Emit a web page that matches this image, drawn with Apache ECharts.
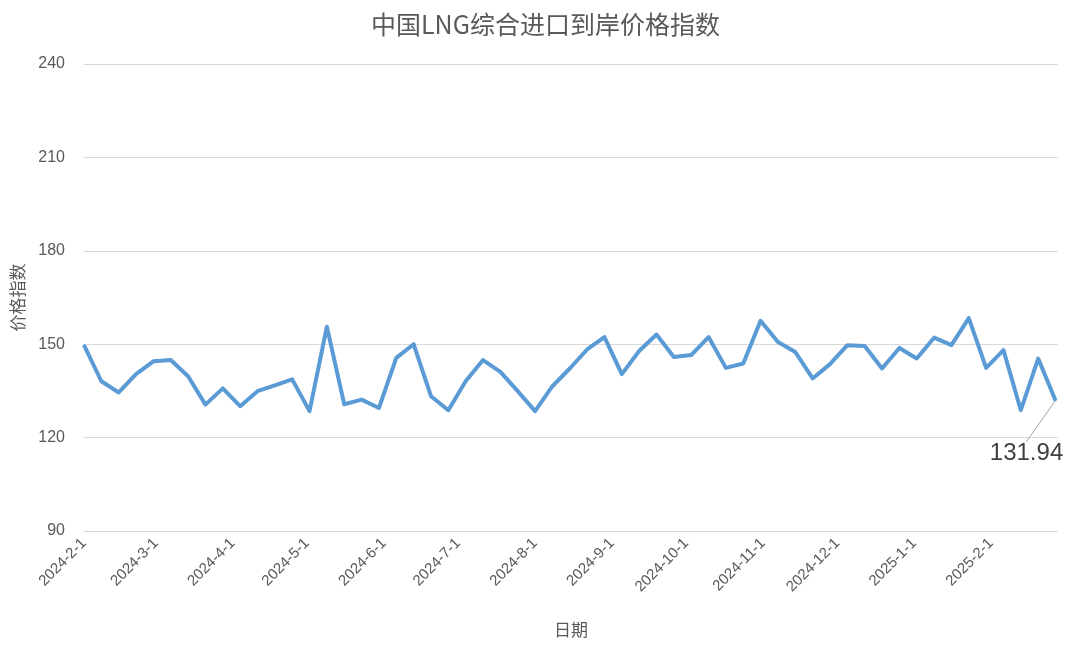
<!DOCTYPE html>
<html>
<head>
<meta charset="utf-8">
<script src="https://cdn.jsdelivr.net/npm/echarts@6/dist/echarts.min.js"></script>
<style>
html,body{margin:0;padding:0;background:#fff;}
#chart{width:1080px;height:647px;}
</style>
</head>
<body>
<div id="chart"></div>
<script>
const titleText = '中国LNG综合进口到岸价格指数';
const xName = '日期';
const yName = '价格指数';
const dates = [
  '2024-02-01','2024-02-08','2024-02-15','2024-02-22','2024-02-29',
  '2024-03-07','2024-03-14','2024-03-21','2024-03-28',
  '2024-04-04','2024-04-11','2024-04-18','2024-04-25',
  '2024-05-02','2024-05-09','2024-05-16','2024-05-23','2024-05-30',
  '2024-06-06','2024-06-13','2024-06-20','2024-06-27',
  '2024-07-04','2024-07-11','2024-07-18','2024-07-25',
  '2024-08-01','2024-08-08','2024-08-15','2024-08-22','2024-08-29',
  '2024-09-05','2024-09-12','2024-09-19','2024-09-26',
  '2024-10-03','2024-10-10','2024-10-17','2024-10-24','2024-10-31',
  '2024-11-07','2024-11-14','2024-11-21','2024-11-28',
  '2024-12-05','2024-12-12','2024-12-19','2024-12-26',
  '2025-01-02','2025-01-09','2025-01-16','2025-01-23','2025-01-30',
  '2025-02-06','2025-02-13','2025-02-20','2025-02-27'
];
const values = [
  149.7,138.1,134.5,140.4,144.5,144.9,139.7,130.6,135.8,130.1,
  134.9,136.8,138.7,128.5,155.6,130.7,132.2,129.5,145.6,150.0,
  133.3,128.8,138.1,144.9,141.1,134.9,128.5,136.5,142.2,148.3,
  152.3,140.4,147.8,153.1,145.9,146.5,152.3,142.4,143.8,157.5,
  150.7,147.5,139.0,143.6,149.7,149.4,142.2,148.8,145.4,152.1,
  149.7,158.4,142.4,148.1,128.8,145.4,131.94
];
const xMin = '2024-02-01';
const xMax = '2025-02-28';
const yMin = 90, yMax = 240, yInterval = 30;

const seriesData = dates.map((d, i) => {
  const item = { value: [d, values[i]] };
  if (i === dates.length - 1) {
    item.label = { show: true };
    item.labelLine = { show: true };
  }
  return item;
});

const chart = echarts.init(document.getElementById('chart'));
const font = '"Liberation Sans", Arial, "Noto Sans CJK SC", sans-serif';
chart.setOption({
  animation: false,
  backgroundColor: '#ffffff',
  title: {
    text: titleText,
    left: 366,
    top: 7,
    textStyle: { fontFamily: '"Noto Sans CJK SC", sans-serif', fontSize: 25, fontWeight: 'normal', color: '#595959' }
  },
  grid: { left: 84, right: 22, top: 64, bottom: 116, containLabel: false, outerBoundsMode: 'none' },
  xAxis: {
    type: 'time',
    min: xMin,
    max: xMax,
    name: xName,
    nameLocation: 'middle',
    nameGap: 90,
    nameTextStyle: { fontFamily: '"Noto Sans CJK SC", sans-serif', fontSize: 17, color: '#595959' },
    minInterval: 28 * 86400000,
    maxInterval: 31 * 86400000,
    axisLine: { show: false },
    axisTick: { show: false },
    splitLine: { show: false },
    axisLabel: {
      rotate: 45,
      fontFamily: font,
      fontSize: 15,
      color: '#595959',
      margin: 10,
      hideOverlap: false,
      showMinLabel: true,
      showMaxLabel: false,
      formatter: function (v) {
        const d = new Date(v);
        return d.getFullYear() + '-' + (d.getMonth() + 1) + '-' + d.getDate();
      }
    }
  },
  yAxis: {
    type: 'value',
    min: yMin,
    max: yMax,
    interval: yInterval,
    name: yName,
    nameLocation: 'middle',
    nameGap: 58,
    nameRotate: 90,
    nameTextStyle: { fontFamily: '"Noto Sans CJK SC", sans-serif', fontSize: 17, color: '#595959' },
    axisLine: { show: false },
    axisTick: { show: false },
    splitLine: { lineStyle: { color: '#d9d9d9', width: 1 } },
    axisLabel: { fontFamily: font, fontSize: 16, color: '#595959', margin: 19 }
  },
  series: [{
    type: 'line',
    data: seriesData,
    symbol: 'circle',
    symbolSize: 2,
    showSymbol: true,
    lineStyle: { color: '#5b9bd5', width: 4, join: 'round' },
    itemStyle: { color: '#5b9bd5', borderWidth: 0 },
    label: {
      show: false,
      position: 'inside',
      fontFamily: font,
      fontSize: 24,
      color: '#404040',
      padding: [8, 0, 0, 0],
      formatter: function (p) { return p.value[1].toFixed(2); }
    },
    labelLine: { show: false, length2: 0, lineStyle: { color: '#a6a6a6', width: 1 } },
    labelLayout: function (p) {
      return { dx: -29, dy: 53 };
    },
    emphasis: { disabled: true }
  }]
});
</script>
</body>
</html>
